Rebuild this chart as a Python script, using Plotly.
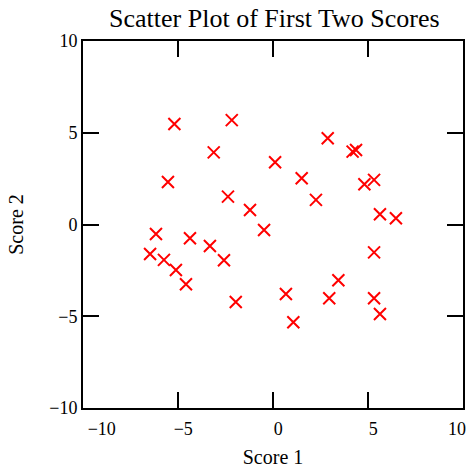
import plotly.graph_objects as go

# First two component scores for each observation
score1 = [-5.19, -2.17, -3.12, 0.11, -5.53, -2.37, -1.21, -0.47, -6.16, -4.37,
          -3.32, -6.47, -5.74, -2.58, -5.11, -4.58, -1.96,
          2.88, 4.19, 4.37, 1.51, 4.81, 5.32, 2.26, 5.63, 6.47,
          5.32, 3.44, 0.68, 2.96, 5.32, 5.63, 1.07]
score2 = [5.48, 5.69, 3.93, 3.39, 2.32, 1.52, 0.79, -0.30, -0.52, -0.75,
          -1.17, -1.61, -1.93, -1.95, -2.48, -3.26, -4.22,
          4.70, 3.97, 4.06, 2.52, 2.19, 2.43, 1.34, 0.56, 0.34,
          -1.52, -3.04, -3.79, -4.02, -4.02, -4.88, -5.33]

tick_vals = [-10, -5, 0, 5, 10]
tick_labels = ["\u221210", "\u22125", "0", "5", "10"]

serif = "Liberation Serif, Times New Roman, serif"

# All x labels are pulled left a little (ticklabelshift); leading no-break
# spaces then push the inner ones back to sit just right of their ticks,
# and the first one further clear of the lower-left corner.
NB = "\u00a0"
x_lead = [11, 5, 5, 5, 0]
x_tick_text = [NB * n + t for t, n in zip(tick_labels, x_lead)]

fig = go.Figure(
    go.Scatter(
        x=score1,
        y=score2,
        mode="markers",
        marker=dict(symbol="x-thin", size=12, color="red",
                    line=dict(color="red", width=2)),
        showlegend=False,
    )
)

axis_common = dict(
    range=[-10.0005, 10.0005],
    tickvals=tick_vals,
    ticks="inside",
    ticklen=16,
    tickwidth=2,
    tickcolor="black",
    showline=True,
    linewidth=2,
    linecolor="black",
    mirror="ticks",
    showgrid=False,
    zeroline=False,
    automargin=False,
    ticklabeloverflow="allow",
    tickfont=dict(family=serif, size=18, color="black"),
)

fig.update_xaxes(**axis_common, ticktext=x_tick_text, ticklabelstandoff=3,
                 ticklabelshift=-6,
                 title=dict(text="Score 1", font=dict(family=serif, size=20, color="black"),
                            standoff=12))
fig.update_yaxes(**axis_common, ticktext=tick_labels,
                 title=dict(text="Score 2", font=dict(family=serif, size=20, color="black"),
                            standoff=20))

fig.update_layout(
    width=469,
    height=469,
    margin=dict(l=83, r=6, t=41, b=61),
    paper_bgcolor="white",
    plot_bgcolor="white",
    title=dict(text="Scatter Plot of First Two Scores",
               font=dict(family=serif, size=26, color="black"),
               x=0.585, xanchor="center", y=0.962, yanchor="middle"),
)

fig.write_html("out.html")
